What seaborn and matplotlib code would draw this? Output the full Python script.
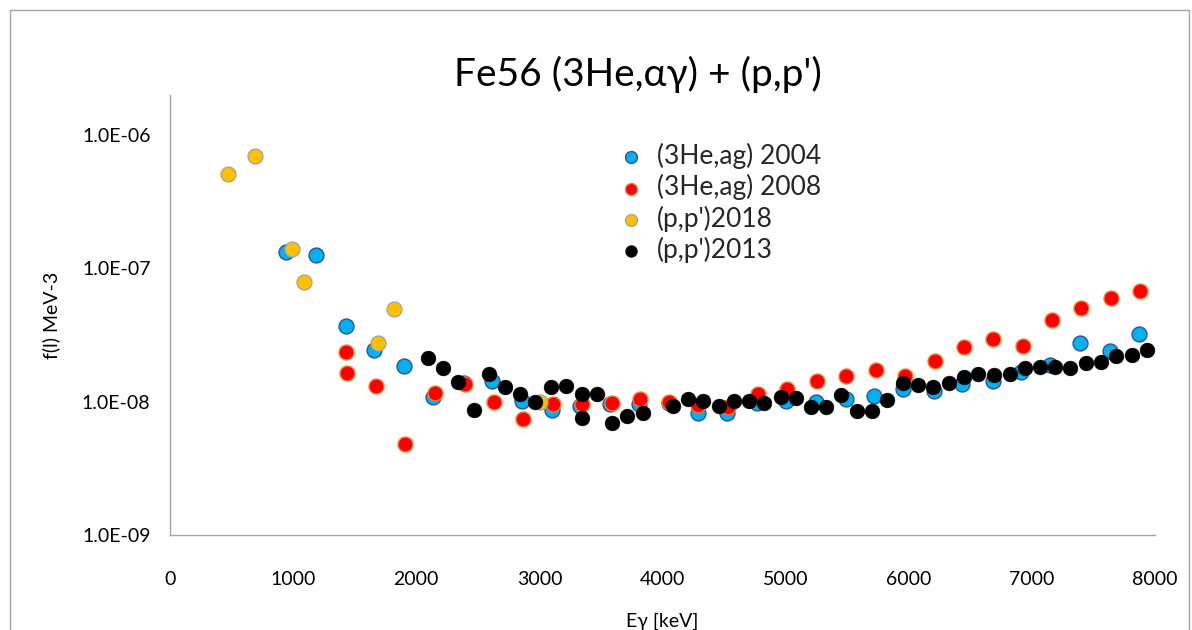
import matplotlib
matplotlib.use("Agg")
import matplotlib.pyplot as plt
import matplotlib.ticker as mticker
from matplotlib.patches import Rectangle
import seaborn as sns
import pandas as pd

sns.set_theme(style="white")
plt.rcParams['font.family'] = ['Lato', 'DejaVu Sans']

# (3He,ag) 2004
e_2004 = [942, 1186, 1427, 1660, 1903, 2139, 2390, 2613, 2857, 3100, 3331, 3575, 3812, 4050,
          4292, 4527, 4766, 5005, 5245, 5489, 5721, 5957, 6201, 6431, 6680, 6913, 7149, 7392,
          7631, 7872]
f_2004 = [1.33e-7, 1.26e-7, 3.67e-8, 2.44e-8, 1.85e-8, 1.08e-8, 1.38e-8, 1.44e-8, 1.02e-8, 8.7e-9,
          9.3e-9, 9.6e-9, 9.6e-9, 9.8e-9, 8.2e-9, 8.2e-9, 9.7e-9, 1.02e-8, 9.9e-9, 1.05e-8,
          1.11e-8, 1.24e-8, 1.21e-8, 1.36e-8, 1.42e-8, 1.66e-8, 1.89e-8, 2.74e-8, 2.41e-8, 3.22e-8]

# (3He,ag) 2008
e_2008 = [1427, 1435, 1673, 1911, 2153, 2396, 2632, 2870, 3108, 3344, 3588, 3818, 4053, 4292,
          4535, 4779, 5014, 5253, 5492, 5733, 5971, 6209, 6445, 6688, 6927, 7162, 7400, 7644, 7880]
f_2008 = [2.38e-8, 1.63e-8, 1.32e-8, 4.8e-9, 1.17e-8, 1.36e-8, 9.9e-9, 7.4e-9, 9.6e-9, 9.6e-9,
          9.8e-9, 1.05e-8, 9.9e-9, 9.4e-9, 9.2e-9, 1.14e-8, 1.25e-8, 1.42e-8, 1.57e-8, 1.74e-8,
          1.57e-8, 2.03e-8, 2.59e-8, 2.95e-8, 2.60e-8, 4.1e-8, 5.05e-8, 6.0e-8, 6.8e-8]

# (p,p')2018
e_2018 = [471, 690, 994, 1091, 1692, 1822, 3006]
f_2018 = [5.1e-7, 7.0e-7, 1.40e-7, 7.9e-8, 2.76e-8, 4.95e-8, 9.9e-9]

# (p,p')2013
e_2013 = [2099, 2221, 2342, 2470, 2594, 2721, 2843, 2965, 3092, 3217, 3344, 3344, 3466, 3588,
          3710, 3838, 4089, 4211, 4332, 4462, 4580, 4702, 4828, 4965, 5082, 5205, 5329, 5451,
          5578, 5700, 5822, 5949, 6074, 6196, 6323, 6445, 6565, 6694, 6818, 6940, 7067, 7189,
          7311, 7441, 7563, 7685, 7812, 7934]
f_2013 = [2.13e-8, 1.79e-8, 1.40e-8, 8.7e-9, 1.61e-8, 1.28e-8, 1.14e-8, 9.9e-9, 1.28e-8, 1.32e-8,
          1.14e-8, 7.5e-9, 1.14e-8, 6.9e-9, 7.8e-9, 8.2e-9, 9.3e-9, 1.05e-8, 1.02e-8, 9.3e-9,
          1.02e-8, 1.02e-8, 9.7e-9, 1.08e-8, 1.07e-8, 9.2e-9, 9.2e-9, 1.12e-8, 8.5e-9, 8.5e-9,
          1.03e-8, 1.37e-8, 1.33e-8, 1.28e-8, 1.37e-8, 1.54e-8, 1.60e-8, 1.59e-8, 1.60e-8, 1.79e-8,
          1.83e-8, 1.81e-8, 1.79e-8, 1.94e-8, 2.00e-8, 2.19e-8, 2.24e-8, 2.44e-8]

series = [
    ("(3He,ag) 2004", e_2004, f_2004, "#00B0F0", "#2F5597", 1.0),
    ("(3He,ag) 2008", e_2008, f_2008, "#FF0000", "#ED7D31", 1.0),
    ("(p,p')2018", e_2018, f_2018, "#FFC000", "#A5A5A5", 1.0),
    ("(p,p')2013", e_2013, f_2013, "#000000", "#000000", 0.3),
]

fig = plt.figure(figsize=(11.92, 6.30), dpi=100)
ax = fig.add_axes([0.1426, 0.1508, 0.8264, 0.6984])

for label, e, f, face, edge, lw in series:
    df = pd.DataFrame({"E": e, "f": f})
    sns.scatterplot(data=df, x="E", y="f", ax=ax, s=115, color=face, edgecolor=edge,
                    linewidth=lw, label=label, zorder=3)

ax.set_yscale("log")
ax.set_xlim(0, 8000)
ax.set_ylim(1e-9, 2.0e-6)
ax.xaxis.set_major_locator(mticker.MultipleLocator(1000))
ax.yaxis.set_major_locator(mticker.FixedLocator([1e-9, 1e-8, 1e-7, 1e-6]))
ax.yaxis.set_minor_locator(mticker.NullLocator())
ax.yaxis.set_major_formatter(mticker.FuncFormatter(lambda v, p: f"{v:.1E}"))

for side in ["top", "right"]:
    ax.spines[side].set_visible(False)
for side in ["left", "bottom"]:
    ax.spines[side].set_color("#A6A6A6")
    ax.spines[side].set_linewidth(1.0)
ax.tick_params(axis="both", which="major", direction="out", length=6, width=1,
               color="#A6A6A6", labelsize=14, labelcolor="#000000")
ax.tick_params(axis="x", pad=20)
ax.tick_params(axis="y", pad=8)

ax.set_xlabel("Eγ [keV]", fontsize=14, labelpad=18, color="#000000")
ax.set_ylabel("f(l) MeV-3", fontsize=14, labelpad=16, color="#000000")

fig.text(0.535, 0.882, "Fe56 (3He,αγ) + (p,p')", ha="center", va="center", fontsize=28,
         color="#000000", family=['Lato', 'DejaVu Sans'])

leg = ax.legend(loc="upper left", bbox_to_anchor=(0.43, 0.915), frameon=False, fontsize=19,
                markerscale=0.8, handletextpad=0.0, labelspacing=0.2, borderaxespad=0)

fig.patches.append(Rectangle((10 / 1192, -0.05), 1179 / 1192, 1.05 - 10 / 630,
                             transform=fig.transFigure, fill=False, edgecolor="#A6A6A6",
                             linewidth=1.0))

fig.savefig("out.png", dpi=100, facecolor="white")
